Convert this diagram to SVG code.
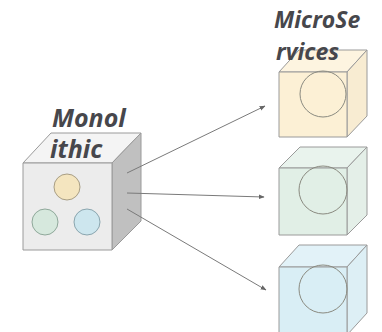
<svg xmlns="http://www.w3.org/2000/svg" width="382" height="332" viewBox="0 0 382 332">
  <defs>
    <marker id="arrow" viewBox="0 0 10 10" refX="9" refY="5" markerWidth="6" markerHeight="6" orient="auto-start-reverse" markerUnits="userSpaceOnUse">
      <path d="M0,1 L10,5 L0,9 z" fill="#666"/>
    </marker>
    <style>
      .label { font-family: "Open Sans", "Liberation Sans", sans-serif; font-weight: bold; font-style: italic; fill: #47474c; }
      .edge { stroke: #7a7a7a; stroke-width: 1; fill: none; }
      .cube path, .cube rect { stroke: #9a9a9a; stroke-width: 1; stroke-linejoin: round; }
      .ring { fill: none; stroke: #8a8a80; stroke-width: 1; }
    </style>
  </defs>
  <rect width="382" height="332" fill="#ffffff"/>

  <!-- monolithic block -->
  <g id="monolithic" class="cube">
    <path d="M23,163 L51,133 L141,133 L112,163 Z" fill="#f4f4f4"/>
    <path d="M112,163 L141,133 L141,221 L112,250 Z" fill="#c0c0c0"/>
    <rect x="23" y="163" width="89" height="87" fill="#ececec"/>
    <circle cx="67" cy="187" r="13" fill="#f4e5bf" stroke="#a89e84"/>
    <circle cx="45" cy="222" r="13" fill="#d6e8dd" stroke="#8fa89a"/>
    <circle cx="87" cy="222" r="13" fill="#cde6ee" stroke="#8aa5ae"/>
  </g>
  <text class="label" x="52" y="127" font-size="25">Monol</text>
  <text class="label" x="50" y="158" font-size="25">ithic</text>

  <!-- service blocks -->
  <g id="service-yellow" class="cube">
    <path d="M279,72 L299,50 L367,50 L347,72 Z" fill="#fdf4e0"/>
    <path d="M347,72 L367,50 L367,116 L347,137 Z" fill="#f8ecd2"/>
    <rect x="279" y="72" width="68" height="65" fill="#fcf0d5"/>
    <circle class="ring" cx="323" cy="94" r="23"/>
  </g>
  <g id="service-green" class="cube">
    <path d="M279,168 L300,147 L367,147 L347,168 Z" fill="#e9f3ed"/>
    <path d="M347,168 L367,147 L367,215 L347,235 Z" fill="#e4efe8"/>
    <rect x="279" y="168" width="68" height="67" fill="#e1efe6"/>
    <circle class="ring" cx="323" cy="190" r="24"/>
  </g>
  <g id="service-blue" class="cube">
    <path d="M279,267 L299,245 L367,245 L347,267 Z" fill="#e2f2f8"/>
    <path d="M347,267 L367,245 L367,313 L347,335 Z" fill="#ddeff5"/>
    <rect x="279" y="267" width="68" height="68" fill="#d9eef5"/>
    <circle class="ring" cx="323" cy="289" r="24"/>
  </g>
  <text class="label" x="274" y="28" font-size="23">MicroSe</text>
  <text class="label" x="276" y="60" font-size="23">rvices</text>

  <!-- connectors -->
  <g id="connectors">
    <line class="edge" x1="127" y1="173" x2="265" y2="106" marker-end="url(#arrow)"/>
    <line class="edge" x1="127" y1="193" x2="264" y2="197" marker-end="url(#arrow)"/>
    <line class="edge" x1="127" y1="209" x2="266" y2="290" marker-end="url(#arrow)"/>
  </g>
</svg>
